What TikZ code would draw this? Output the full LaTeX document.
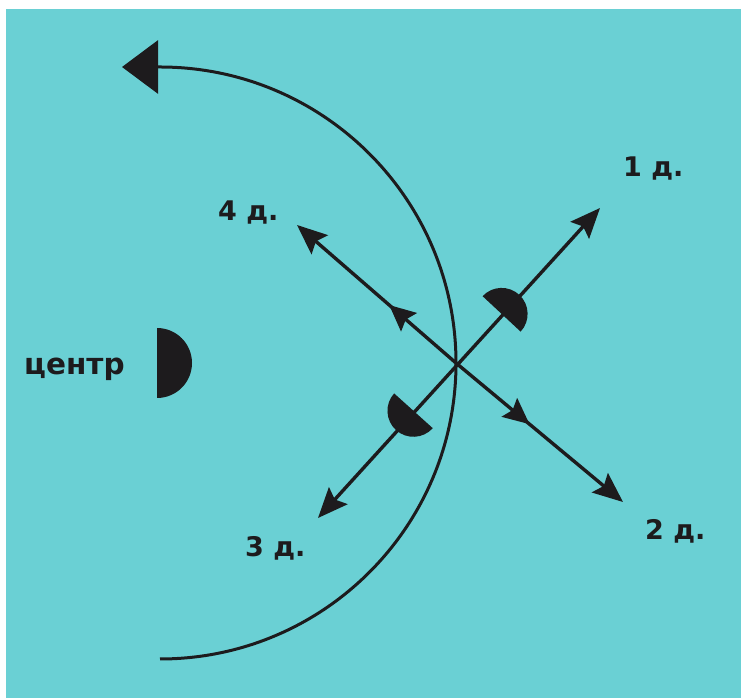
\documentclass[tikz,border=0pt]{standalone}
\usepackage{fontspec}
\setsansfont{DejaVu Sans}
\definecolor{MAPcyan}{HTML}{6AD0D4}
\definecolor{MAPink}{HTML}{1D1B1D}
\usetikzlibrary{decorations.markings, calc, arrows.meta}
\tikzset{
   dirlabel/.style={font=\sffamily\bfseries\fontsize{27}{27}\selectfont, text=MAPink, inner sep=0pt, anchor=base west},
   dirline/.style={MAPink, line width=3.4pt},
   midarrow/.style={postaction={decorate}, decoration={markings,
      mark=at position #1 with {\arrow{Stealth[length=26pt, width=24pt, inset=4pt]}}}}
}

\begin{document}
\begin{tikzpicture}[x=1pt, y=1pt]
   \useasboundingbox (0,0) rectangle (741,698);
   \fill[MAPcyan] (6,0) rectangle (741,689);
   % centre of the turn
   \fill[MAPink] (157,370) arc[start angle=90, end angle=-90, radius=35pt] -- cycle;
   \node[dirlabel, font=\sffamily\bfseries\fontsize{29.5}{29.5}\selectfont] (centre) at (24,323) {центр};
   % arc round the centre
   \coordinate (arctip) at (122,631);
   \coordinate (arctop) at (160,631);
   \draw[MAPink, line width=3pt, {Triangle[length=36pt, width=53pt]}-] (arctip) -- (arctop)
      arc[start angle=90, end angle=-90, radius=296pt];
   % the four directions
   \coordinate (X) at (456,335);
   \coordinate (d1) at (600,490);
   \coordinate (d2) at (623,196);
   \coordinate (d3) at (318,180);
   \coordinate (d4) at (297,473);
   \draw[dirline, {Stealth[length=30pt, width=25pt, inset=5pt]}-{Stealth[length=30pt, width=25pt, inset=5pt]}] (d3) -- (d1);
   \draw[dirline, -{Stealth[length=30pt, width=25pt, inset=5pt]}, midarrow=0.42] (X) -- (d4);
   \draw[dirline, -{Stealth[length=30pt, width=25pt, inset=5pt]}, midarrow=0.44] (X) -- (d2);
   \fill[MAPink] ($(X)!67pt!(d1)$) ++(137:26pt) arc[start angle=137, end angle=-43, radius=26pt] -- cycle;
   \fill[MAPink] ($(X)!64pt!(d3)$) ++(318:26pt) arc[start angle=318, end angle=138, radius=26pt] -- cycle;
   \node[dirlabel] (lab1) at (623,521) {1 д.};
   \node[dirlabel] (lab2) at (645,158) {2 д.};
   \node[dirlabel] (lab3) at (245,141) {3 д.};
   \node[dirlabel] (lab4) at (218,477) {4 д.};
\end{tikzpicture}
\end{document}
